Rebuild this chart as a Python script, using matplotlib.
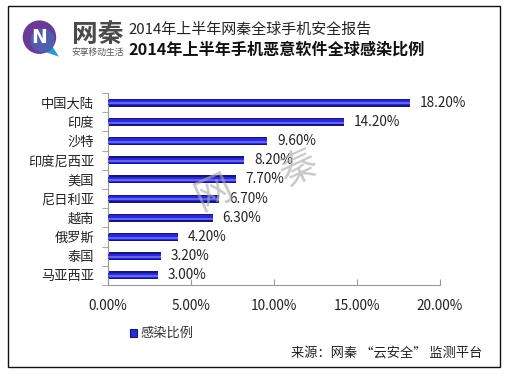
import matplotlib
matplotlib.use('Agg')
import matplotlib.pyplot as plt
from matplotlib.patches import Rectangle, Circle, Polygon
from matplotlib.ticker import FuncFormatter, FixedLocator

plt.rcParams['font.family'] = ['Noto Sans CJK SC', 'DejaVu Sans']

countries = ['中国大陆', '印度', '沙特', '印度尼西亚', '美国',
             '尼日利亚', '越南', '俄罗斯', '泰国', '马亚西亚']
rates = [18.2, 14.2, 9.6, 8.2, 7.7, 6.7, 6.3, 4.2, 3.2, 3.0]
x_ticks = [0, 5, 10, 15, 20]
series_name = '感染比例'

W, H = 509, 378
fig = plt.figure(figsize=(W / 100, H / 100), dpi=100)
fig.patch.set_facecolor('white')

# outer frame
fig.add_artist(Rectangle((8 / W, 1 - 367 / H), 492 / W, 361 / H,
                         transform=fig.transFigure, fill=False,
                         edgecolor='#111111', linewidth=1.0))

# ---- header: logo + titles ----
logo = fig.add_axes([20 / W, 1 - 62 / H, 54 / W, 54 / H])
logo.set_xlim(0, 1)
logo.set_ylim(0, 1)
logo.set_aspect('equal')
logo.axis('off')
logo.add_patch(Polygon([[0.42, 0.2], [0.72, 0.1], [0.58, 0.32]],
                       closed=True, facecolor='#2a9ad0', edgecolor='none'))
logo.add_patch(Circle((0.36, 0.46), 0.31, facecolor='#6a3a98', edgecolor='none'))
logo.add_patch(Circle((0.42, 0.4), 0.22, facecolor='#3a7cc0', edgecolor='none', alpha=0.55))
logo.text(0.36, 0.45, 'N', fontsize=13.5, fontweight='bold', color='white',
          ha='center', va='center', family='DejaVu Sans')

fig.text(72 / W, 1 - 35 / H, '网秦', fontsize=18.5, fontweight='bold',
         color='#4a4a4a', va='center')
fig.text(71 / W, 1 - 52 / H, '安享移动生活', fontsize=6.3, color='#555555', va='center')
fig.text(128 / W, 1 - 30 / H, '2014年上半年网秦全球手机安全报告', fontsize=10.8,
         color='#222222', va='center')
fig.text(128 / W, 1 - 50 / H, '2014年上半年手机恶意软件全球感染比例', fontsize=11.6,
         fontweight='bold', color='#111111', va='center')

# ---- bar chart ----
ax = fig.add_axes([108 / W, 1 - 285 / H, 332 / W, 192 / H])
y = list(range(len(countries)))
ax.barh(y, rates, height=0.42, color='#14147a', edgecolor='none', zorder=2)
ax.barh(y, rates, height=0.28, color='#2a2ad2', edgecolor='none', zorder=3)
ax.barh([v + 0.04 for v in y], rates, height=0.1, color='#6464f4',
        edgecolor='none', zorder=4)

for yi, v in zip(y, rates):
    ax.text(v + 0.6, yi, f'{v:.2f}%', fontsize=9.8, color='#222222',
            va='center', ha='left', zorder=5)

ax.set_xlim(0, 20)
ax.set_ylim(len(countries) - 0.5, -0.5)
ax.set_xticks(x_ticks)
ax.xaxis.set_major_formatter(FuncFormatter(lambda v, p: f'{v:.2f}%'))
ax.set_yticks(y)
ax.set_yticklabels(countries)
ax.yaxis.set_minor_locator(FixedLocator([i - 0.5 for i in range(len(countries) + 1)]))
ax.tick_params(axis='y', which='major', length=0, pad=10, labelsize=9.5,
               labelcolor='#222222')
ax.tick_params(axis='y', which='minor', length=4, color='#999999', direction='out')
ax.tick_params(axis='x', length=4, color='#999999', direction='in', pad=10,
               labelsize=9.8, labelcolor='#222222')
for s in ['top', 'right']:
    ax.spines[s].set_visible(False)
for s in ['left', 'bottom']:
    ax.spines[s].set_color('#999999')
    ax.spines[s].set_linewidth(0.8)

# watermark
fig.text(214 / W, 1 - 193 / H, '网', fontsize=27, color='#aaaaaa', alpha=0.65,
         rotation=25, ha='center', va='center', zorder=10)
fig.text(299 / W, 1 - 169 / H, '秦', fontsize=27, color='#aaaaaa', alpha=0.65,
         rotation=25, ha='center', va='center', zorder=10)

# legend
fig.add_artist(Rectangle((130 / W, 1 - 337 / H), 7 / W, 8 / H,
                         transform=fig.transFigure, facecolor='#2a2ad2',
                         edgecolor='#14147a', linewidth=0.8))
fig.text(140 / W, 1 - 333 / H, series_name, fontsize=9.5, color='#333333',
         va='center')

fig.text(482 / W, 1 - 353 / H, '来源：网秦 “云安全” 监测平台', fontsize=9.5,
         color='#222222', ha='right', va='center')

fig.savefig('out.png', dpi=100, facecolor='white')
